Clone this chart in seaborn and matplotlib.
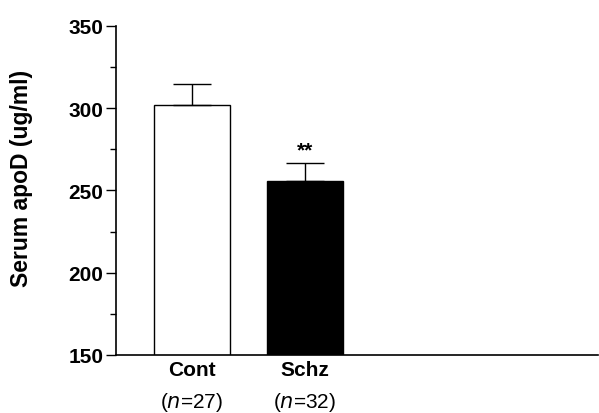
import numpy as np
import pandas as pd
import seaborn as sns
import matplotlib
matplotlib.use("Agg")
from matplotlib import pyplot as plt
from matplotlib import transforms

groups = ["Cont", "Schz"]
n_labels = ["27", "32"]
means = [302, 256]
sem = [13, 11]
colors = ["white", "black"]

sns.set_style("ticks", {"text.color": "black", "axes.labelcolor": "black",
                        "xtick.color": "black", "ytick.color": "black"})
plt.rcParams["font.family"] = ["Liberation Sans", "DejaVu Sans"]

fig = plt.figure(figsize=(5.99, 4.14), dpi=100)
ax = fig.add_axes([0.1937, 0.1401, 0.8047, 0.7947])

df = pd.DataFrame({"group": groups, "mean": means})
sns.barplot(data=df, x="group", y="mean", hue="group", palette=colors,
            edgecolor="black", linewidth=1.0, width=0.67, legend=False,
            errorbar=None, ax=ax)

x = np.arange(len(groups))
ax.errorbar(x, means, yerr=[np.zeros(len(sem)), sem], fmt="none",
            ecolor="black", elinewidth=1.0, capsize=13.5, capthick=1.0)

# significance mark
ax.text(x[1], means[1] + sem[1] + 2, "**", ha="center", va="bottom",
        fontsize=15, fontweight="bold")

ax.set_ylim(150, 350)
ax.set_xlim(-0.67, 3.59)
ax.set_yticks([150, 200, 250, 300, 350])
ax.set_yticks([175, 225, 275, 325], minor=True)
ax.tick_params(axis="y", which="major", length=7, width=1, labelsize=15, pad=2)
ax.tick_params(axis="y", which="minor", length=4, width=1)
for lab in ax.get_yticklabels():
    lab.set_fontweight("bold")

ax.set_xticks([])
ax.set_xlabel("")
ax.set_ylabel("Serum apoD (ug/ml)", fontsize=16.5, fontweight="bold")
ax.yaxis.set_label_coords(-0.172, 0.54)

trans = transforms.blended_transform_factory(ax.transData, ax.transAxes)
for i, (g, n) in enumerate(zip(groups, n_labels)):
    ax.text(i, -0.045, g, transform=trans, ha="center", va="center",
            fontsize=15, fontweight="bold")
    ax.text(i, -0.14, r"($\it{n}$=" + n + ")", transform=trans,
            ha="center", va="center", fontsize=15)

sns.despine(ax=ax)
for s in ["left", "bottom"]:
    ax.spines[s].set_linewidth(1.2)
    ax.spines[s].set_color("black")

fig.savefig("out.png", dpi=100)
